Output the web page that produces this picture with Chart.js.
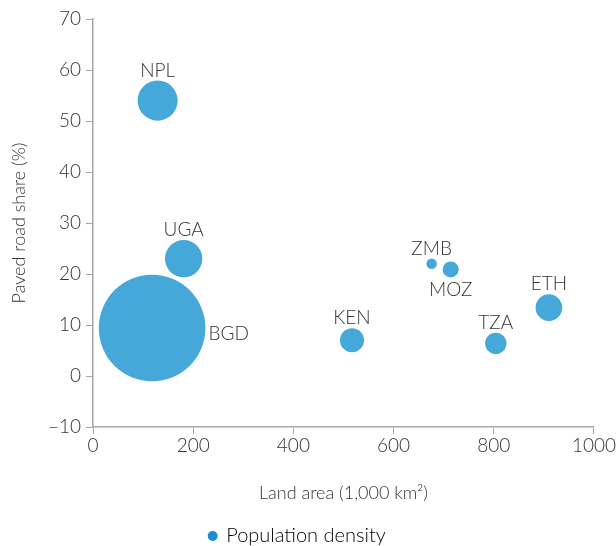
<!DOCTYPE html>
<html>
<head>
<meta charset="utf-8">
<script src="https://cdn.jsdelivr.net/npm/chart.js@4.4.1/dist/chart.umd.min.js"></script>
<style>
  html, body { margin: 0; padding: 0; background: #fff; }
  #wrap { width: 616px; height: 546px; }
</style>
</head>
<body>
<div id="wrap"><canvas id="bubbleChart"></canvas></div>
<script>
// values
const countries  = ['NPL', 'UGA', 'BGD', 'KEN', 'ZMB', 'MOZ', 'TZA', 'ETH'];
const landArea   = [129, 181, 118, 517, 676, 714, 804, 910];   // 1,000 km2
const pavedShare = [54, 23, 9.4, 7, 22, 20.9, 6.4, 13.4];      // %
const popDensity = [175, 152, 1240, 63, 12, 28, 50, 77];        // people per km2 (est.)
const xTickValues = [0, 200, 400, 600, 800, 1000];
const yTickValues = [-10, 0, 10, 20, 30, 40, 50, 60, 70];

const labelSide = { BGD: 'right', MOZ: 'below' };
const FONT = 'Lato';
const TEXT = '#333333';
const AXIS = '#a6a6a6';
const BUBBLE = '#45a8d8';

const bubbleLabels = {
    id: 'bubbleLabels',
    afterDatasetsDraw(chart) {
        const ctx = chart.ctx;
        const meta = chart.getDatasetMeta(0);
        ctx.save();
        ctx.font = '300 19px ' + FONT;
        ctx.fillStyle = TEXT;
        meta.data.forEach((el, i) => {
            const name = countries[i];
            const r = el.options.radius;
            const side = labelSide[name] || 'above';
            if (side === 'right') {
                ctx.textAlign = 'left';
                ctx.textBaseline = 'middle';
                ctx.fillText(name, el.x + r + 3, el.y + 6);
            } else if (side === 'below') {
                ctx.textAlign = 'center';
                ctx.textBaseline = 'top';
                ctx.fillText(name, el.x, el.y + r + 3);
            } else {
                ctx.textAlign = 'center';
                ctx.textBaseline = 'alphabetic';
                ctx.fillText(name, el.x, el.y - r - 4);
            }
        });
        ctx.restore();
    }
};

const points = countries.map((c, i) => ({ x: landArea[i], y: pavedShare[i], r: Math.sqrt(popDensity[i]) * 1.514 }));

new Chart(document.getElementById('bubbleChart').getContext('2d'), {
    type: 'bubble',
    data: {
        datasets: [{
            label: 'Population density',
            data: points,
            backgroundColor: BUBBLE,
            borderWidth: 0,
            hoverRadius: 0,
            clip: false
        }]
    },
    options: {
        responsive: true,
        maintainAspectRatio: false,
        animation: false,
        events: [],
        layout: { autoPadding: false, padding: { top: 19, right: 21, left: 0, bottom: -10 } },
        plugins: {
            tooltip: { enabled: false },
            legend: {
                display: true,
                position: 'bottom',
                labels: {
                    usePointStyle: true,
                    pointStyle: 'circle',
                    boxWidth: 7,
                    boxHeight: 7,
                    padding: 0,
                    color: TEXT,
                    font: { family: FONT, size: 20, weight: '300' },
                    generateLabels: () => [{ text: 'Population density', fillStyle: '#1a8fd0', strokeStyle: '#1a8fd0', lineWidth: 0, pointStyle: 'circle' }]
                }
            }
        },
        scales: {
            x: {
                type: 'linear',
                min: 0,
                max: 1000,
                afterBuildTicks: s => { s.ticks = xTickValues.map(v => ({ value: v })); },
                afterFit: s => { s.height = 99; },
                ticks: { color: TEXT, padding: 0, font: { family: FONT, size: 19, weight: '300' }, callback: v => String(v) },
                grid: { drawOnChartArea: false, drawTicks: true, tickLength: 7, color: AXIS },
                border: { color: AXIS, width: 1.5 },
                title: { display: true, text: 'Land area (1,000 km²)', color: TEXT, padding: { top: 0, bottom: 22 }, font: { family: FONT, size: 18, weight: '300' } }
            },
            y: {
                type: 'linear',
                min: -10,
                max: 70,
                afterBuildTicks: s => { s.ticks = yTickValues.map(v => ({ value: v })); },
                afterFit: s => { s.width = 93; },
                ticks: { color: TEXT, padding: 5, font: { family: FONT, size: 19, weight: '300' }, callback: v => v < 0 ? '\u2013' + Math.abs(v) : String(v) },
                grid: { drawOnChartArea: false, drawTicks: true, tickLength: 7, color: AXIS },
                border: { color: AXIS, width: 1.5 },
                title: { display: true, text: 'Paved road share (%)', color: TEXT, padding: { top: 8, bottom: 0 }, font: { family: FONT, size: 18, weight: '300' } }
            }
        }
    },
    plugins: [bubbleLabels]
});
</script>
</body>
</html>
